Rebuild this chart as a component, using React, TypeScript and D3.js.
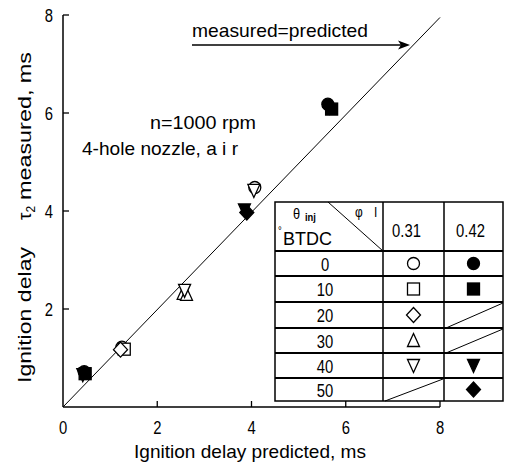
import React from "react";
import * as d3 from "d3";

const xTicks = [0, 2, 4, 6, 8];
const yTicks = [2, 4, 6, 8];
const tableRows = ["0", "10", "20", "30", "40", "50"];
const phiCols = ["0.31", "0.42"];
// marker per row for phi 0.31 and 0.42 (null = no data)
const rowMarkers031 = ["circle", "square", "diamond", "triangle", "invtriangle", null];
const rowMarkers042 = ["circle", "square", null, null, "invtriangle", "diamond"];

type Pt = { x: number; y: number };
const filledCircle: Pt[] = [{ x: 0.45, y: 0.72 }, { x: 5.62, y: 6.18 }];
const filledSquare: Pt[] = [{ x: 0.47, y: 0.68 }, { x: 5.7, y: 6.08 }];
const filledInvTri: Pt[] = [{ x: 3.85, y: 4.02 }, { x: 0.42, y: 0.66 }];
const filledDiamond: Pt[] = [{ x: 3.9, y: 3.97 }, { x: 5.66, y: 6.12 }];
const openCircle: Pt[] = [{ x: 1.25, y: 1.22 }, { x: 4.07, y: 4.48 }];
const openSquare: Pt[] = [{ x: 1.3, y: 1.18 }];
const openDiamond: Pt[] = [{ x: 1.22, y: 1.17 }];
const openTri: Pt[] = [{ x: 2.55, y: 2.32 }, { x: 2.62, y: 2.3 }];
const openInvTri: Pt[] = [{ x: 4.05, y: 4.42 }, { x: 2.58, y: 2.38 }];

const FONT = "'Liberation Sans', Arial, sans-serif";

const x = d3.scaleLinear().domain([0, 8]).range([63, 440]);
const y = d3.scaleLinear().domain([0, 8]).range([407, 15]);

function T({ x, y, children, size = 19, anchor = "start", sx = 0.78, rot = 0, weight }: any) {
  return (
    <text
      transform={`translate(${x},${y}) rotate(${rot}) scale(${sx},1)`}
      textAnchor={anchor}
      fontSize={size}
      fontWeight={weight}
    >
      {children}
    </text>
  );
}

function Marker({ kind, cx, cy, filled, s = 6 }: { kind: string; cx: number; cy: number; filled: boolean; s?: number }) {
  const fill = filled ? "#000" : "#fff";
  const common = { fill, stroke: "#000", strokeWidth: 1.3 };
  if (kind === "circle") return <circle cx={cx} cy={cy} r={s} {...common} />;
  if (kind === "square") return <rect x={cx - s} y={cy - s} width={2 * s} height={2 * s} {...common} />;
  if (kind === "diamond")
    return <polygon points={`${cx},${cy - s - 1.5} ${cx + s + 1},${cy} ${cx},${cy + s + 1.5} ${cx - s - 1},${cy}`} {...common} />;
  if (kind === "triangle")
    return <polygon points={`${cx},${cy - s - 1} ${cx + s},${cy + s} ${cx - s},${cy + s}`} {...common} />;
  return <polygon points={`${cx - s},${cy - s} ${cx + s},${cy - s} ${cx},${cy + s + 1}`} {...common} />;
}

export default function App() {
  const series: { pts: Pt[]; kind: string; filled: boolean }[] = [
    { pts: openCircle, kind: "circle", filled: false },
    { pts: openSquare, kind: "square", filled: false },
    { pts: openDiamond, kind: "diamond", filled: false },
    { pts: openTri, kind: "triangle", filled: false },
    { pts: openInvTri, kind: "invtriangle", filled: false },
    { pts: filledCircle, kind: "circle", filled: true },
    { pts: filledSquare, kind: "square", filled: true },
    { pts: filledInvTri, kind: "invtriangle", filled: true },
    { pts: filledDiamond, kind: "diamond", filled: true },
  ];

  const tL = 275, tR = 503, tT = 202;
  const c1 = 383, c2 = 444;
  const rowYs = [251, 276, 302, 328, 353, 378, 401];

  return (
    <svg width={507} height={466} style={{ position: "absolute", left: 0, top: 0, background: "#fff" }} fontFamily={FONT}>
      <rect x={0} y={0} width={507} height={466} fill="#fff" />
      {/* axes */}
      <line x1={x(0)} x2={x(8)} y1={y(0)} y2={y(0)} stroke="#000" strokeWidth={1.5} />
      <line x1={x(0)} x2={x(0)} y1={y(0)} y2={y(8)} stroke="#000" strokeWidth={1.5} />
      {xTicks.map((t) => (
        <g key={"xt" + t}>
          {t > 0 && <line x1={x(t)} x2={x(t)} y1={y(0)} y2={y(0) - 6} stroke="#000" strokeWidth={1.3} />}
          <T x={x(t)} y={y(0) + 27} anchor="middle">{t}</T>
        </g>
      ))}
      {yTicks.map((t) => (
        <g key={"yt" + t}>
          <line x1={x(0)} x2={x(0) + 6} y1={y(t)} y2={y(t)} stroke="#000" strokeWidth={1.3} />
          <T x={53} y={y(t) + 7} anchor="end">{t}</T>
        </g>
      ))}
      <text x={250} y={458} textAnchor="middle" fontSize={19} textLength={232} lengthAdjust="spacingAndGlyphs">
        Ignition delay predicted, ms
      </text>
      {/* y title */}
      <g transform="translate(31,0)">
        <text transform="translate(0,315) rotate(-90)" textAnchor="middle" fontSize={19} textLength={136} lengthAdjust="spacingAndGlyphs">
          Ignition delay
        </text>
        <text transform="translate(0,213) rotate(-90)" textAnchor="middle" fontSize={19}>
          τ<tspan fontSize={12} dy={4}>2</tspan>
        </text>
        <text transform="translate(0,126) rotate(-90)" textAnchor="middle" fontSize={19} textLength={148} lengthAdjust="spacingAndGlyphs">
          measured, ms
        </text>
      </g>
      {/* diagonal */}
      <line x1={x(0)} y1={y(0)} x2={x(8)} y2={y(7.95)} stroke="#000" strokeWidth={1} />
      {/* annotations */}
      <text x={192} y={37} fontSize={19} textLength={176} lengthAdjust="spacingAndGlyphs">measured=predicted</text>
      <line x1={192} x2={406} y1={45} y2={45} stroke="#000" strokeWidth={1.3} />
      <polygon points="410,45 398,40.5 401,45 398,49.5" fill="#000" />
      <text x={150} y={129} fontSize={19} textLength={106} lengthAdjust="spacingAndGlyphs">n=1000 rpm</text>
      <text x={82} y={155} fontSize={19} textLength={156} lengthAdjust="spacingAndGlyphs">4-hole nozzle,  a i r</text>
      {/* data */}
      {series.map((s, i) =>
        s.pts.map((p, j) => <Marker key={i + "-" + j} kind={s.kind} cx={x(p.x)} cy={y(p.y)} filled={s.filled} s={6} />)
      )}
      {/* table */}
      <rect x={tL} y={tT} width={tR - tL} height={rowYs[6] - tT} fill="#fff" stroke="#000" strokeWidth={1.5} />
      <line x1={c1} x2={c1} y1={tT} y2={rowYs[6]} stroke="#000" strokeWidth={1.5} />
      <line x1={c2} x2={c2} y1={tT} y2={rowYs[6]} stroke="#000" strokeWidth={1.5} />
      {rowYs.slice(0, 6).map((ry, i) => (
        <line key={"rl" + i} x1={tL} x2={tR} y1={ry} y2={ry} stroke="#000" strokeWidth={1.8} />
      ))}
      <line x1={328} y1={tT} x2={c1} y2={rowYs[0]} stroke="#000" strokeWidth={1} />
      <T x={293} y={219} size={15} sx={0.85}>θ</T>
      <T x={305} y={221} size={11} sx={0.85} weight="bold">inj</T>
      <T x={355} y={217} size={14} sx={0.85}>φ</T>
      <T x={374} y={217} size={14} sx={0.85}>I</T>
      <T x={278} y={234} size={11} sx={0.85}>°</T>
      <text x={283} y={245} fontSize={19} textLength={49} lengthAdjust="spacingAndGlyphs">BTDC</text>
      {phiCols.map((p, i) => (
        <T key={p} x={i === 0 ? (c1 + c2) / 2 - 7 : (c2 + tR) / 2 - 3} y={237} anchor="middle">{p}</T>
      ))}
      {tableRows.map((r, i) => {
        const cy = (rowYs[i] + rowYs[i + 1]) / 2;
        const m1 = rowMarkers031[i];
        const m2 = rowMarkers042[i];
        return (
          <g key={"row" + r}>
            <T x={(tL + c1) / 2 - 4} y={cy + 7} anchor="middle">{r}</T>
            {m1 ? (
              <Marker kind={m1} cx={(c1 + c2) / 2} cy={cy} filled={false} s={6} />
            ) : (
              <line x1={c1 + 2} y1={rowYs[i + 1]} x2={c2 - 1} y2={rowYs[i] + 1} stroke="#000" strokeWidth={1} />
            )}
            {m2 ? (
              <Marker kind={m2} cx={(c2 + tR) / 2} cy={cy} filled={true} s={6} />
            ) : (
              <line x1={c2 + 2} y1={rowYs[i + 1]} x2={tR} y2={rowYs[i] + 1} stroke="#000" strokeWidth={1} />
            )}
          </g>
        );
      })}
    </svg>
  );
}
